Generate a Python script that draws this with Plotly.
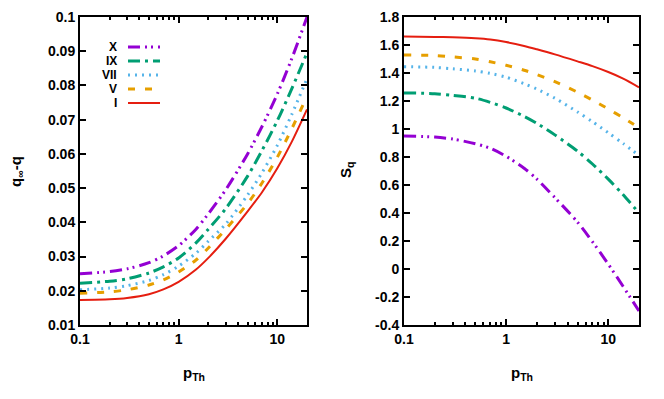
import plotly.graph_objects as go
from plotly.subplots import make_subplots

# transverse momentum grid (log axis)
p_th = [0.1, 0.2, 0.3, 0.5, 0.7, 1, 1.5, 2, 3, 5, 7, 10, 14, 20]

# left panel: q_inf - q
dq_X = [0.0250, 0.0256, 0.0264, 0.0282, 0.0302, 0.0332, 0.0380, 0.0425, 0.0495, 0.0600, 0.0680, 0.0775, 0.0878, 0.1000]
dq_IX = [0.0222, 0.0228, 0.0235, 0.0252, 0.0270, 0.0296, 0.0340, 0.0380, 0.0440, 0.0535, 0.0610, 0.0697, 0.0790, 0.0895]
dq_VII = [0.0203, 0.0208, 0.0215, 0.0230, 0.0247, 0.0272, 0.0310, 0.0345, 0.0395, 0.0480, 0.0545, 0.0625, 0.0715, 0.0820]
dq_V = [0.0193, 0.0197, 0.0203, 0.0217, 0.0232, 0.0255, 0.0290, 0.0325, 0.0380, 0.0455, 0.0515, 0.0590, 0.0673, 0.0768]
dq_I = [0.0173, 0.0175, 0.0179, 0.0190, 0.0204, 0.0226, 0.0262, 0.0296, 0.0352, 0.0432, 0.0488, 0.0558, 0.0635, 0.0730]

# right panel: S_q
sq_X = [0.95, 0.942, 0.928, 0.895, 0.862, 0.805, 0.72, 0.642, 0.51, 0.335, 0.195, 0.035, -0.125, -0.30]
sq_IX = [1.258, 1.252, 1.24, 1.22, 1.19, 1.15, 1.09, 1.04, 0.958, 0.842, 0.75, 0.642, 0.53, 0.40]
sq_VII = [1.445, 1.44, 1.43, 1.415, 1.397, 1.37, 1.324, 1.285, 1.22, 1.122, 1.052, 0.973, 0.896, 0.811]
sq_V = [1.528, 1.525, 1.515, 1.50, 1.48, 1.455, 1.42, 1.389, 1.338, 1.263, 1.207, 1.143, 1.08, 1.01]
sq_I = [1.66, 1.658, 1.655, 1.648, 1.639, 1.621, 1.593, 1.569, 1.533, 1.483, 1.449, 1.407, 1.36, 1.298]

names = ["X", "IX", "VII", "V", "I"]
colors = ["#9400d3", "#009e73", "#56b4e9", "#e69f00", "#e51e10"]
dashes = ["12px,5px,2px,4px,2px,5px", "12px,5px,3px,5px", "2px,5px", "7px,10px", "solid"]
widths = [3, 3, 3, 3, 2]

W, H = 664, 399
OFF = 8  # page body margin shifts the figure by this much


def px(x):
    return (x - OFF) / W


def py(y):
    return 1 - (y - OFF) / H


fig = make_subplots(rows=1, cols=2)

for name, ys, c, d, w in zip(names, [dq_X, dq_IX, dq_VII, dq_V, dq_I], colors, dashes, widths):
    fig.add_trace(go.Scatter(x=p_th, y=ys, mode="lines", name=name,
                             line=dict(color=c, dash=d, width=w, shape="spline", smoothing=0.8)), row=1, col=1)
for name, ys, c, d, w in zip(names, [sq_X, sq_IX, sq_VII, sq_V, sq_I], colors, dashes, widths):
    fig.add_trace(go.Scatter(x=p_th, y=ys, mode="lines", name=name,
                             line=dict(color=c, dash=d, width=w, shape="spline", smoothing=0.8)), row=1, col=2)

tick_font = dict(family="Liberation Sans", size=14, color="black", weight="bold")
axis_common = dict(showline=True, linecolor="black", linewidth=2, mirror="ticks",
                   ticks="inside", ticklen=6, tickwidth=2, tickcolor="black",
                   showgrid=False, zeroline=False, tickfont=tick_font, automargin=False)

xaxis_common = dict(axis_common, type="log", range=[-1, 1.301],
                    tickvals=[0.1, 1, 10], ticktext=["0.1", "1", "10"],
                    minor=dict(ticks="inside", ticklen=3, tickwidth=2, tickcolor="black", dtick="D1", showgrid=False))

fig.update_xaxes(xaxis_common, domain=[px(80), px(307)], row=1, col=1)
fig.update_xaxes(xaxis_common, domain=[px(404), px(639)], row=1, col=2)

fig.update_yaxes(axis_common, range=[0.01, 0.1],
                 tickvals=[0.01, 0.02, 0.03, 0.04, 0.05, 0.06, 0.07, 0.08, 0.09, 0.1],
                 ticktext=["0.01", "0.02", "0.03", "0.04", "0.05", "0.06", "0.07", "0.08", "0.09", "0.1"],
                 domain=[py(325), py(17)], row=1, col=1)
fig.update_yaxes(axis_common, range=[-0.4, 1.8],
                 tickvals=[-0.4, -0.2, 0, 0.2, 0.4, 0.6, 0.8, 1, 1.2, 1.4, 1.6, 1.8],
                 ticktext=["-0.4", "-0.2", "0", "0.2", "0.4", "0.6", "0.8", "1", "1.2", "1.4", "1.6", "1.8"],
                 domain=[py(325), py(17)], row=1, col=2)

# axis titles
title_font = dict(family="Liberation Sans", size=15, color="black", weight="bold")
for xp in [194, 522]:
    fig.add_annotation(x=px(xp), y=py(373), xref="paper", yref="paper", text="p<sub>Th</sub>",
                       showarrow=False, xanchor="center", yanchor="middle", font=title_font)
fig.add_annotation(x=px(16), y=py(172), xref="paper", yref="paper", text="q<sub>∞</sub>-q",
                   showarrow=False, textangle=-90, xanchor="center", yanchor="middle", font=title_font)
fig.add_annotation(x=px(346), y=py(170), xref="paper", yref="paper", text="S<sub>q</sub>",
                   showarrow=False, textangle=-90, xanchor="center", yanchor="middle", font=title_font)

# key inside left panel: label on the left, line sample on the right
key_y = [47, 61, 75, 89, 103]
for name, c, d, w, yp in zip(names, colors, dashes, widths, key_y):
    fig.add_annotation(x=px(119), y=py(yp), xref="paper", yref="paper", text=name, showarrow=False,
                       xanchor="right", yanchor="middle", font=dict(family="Liberation Sans", size=12, color="black", weight="bold"))
    fig.add_shape(type="line", xref="paper", yref="paper", x0=px(128), x1=px(160), y0=py(yp), y1=py(yp),
                  line=dict(color=c, dash=d, width=w))

fig.update_layout(width=W, height=H, margin=dict(l=0, r=0, t=0, b=0),
                  plot_bgcolor="white", paper_bgcolor="white", showlegend=False)

fig.write_html("out.html")
